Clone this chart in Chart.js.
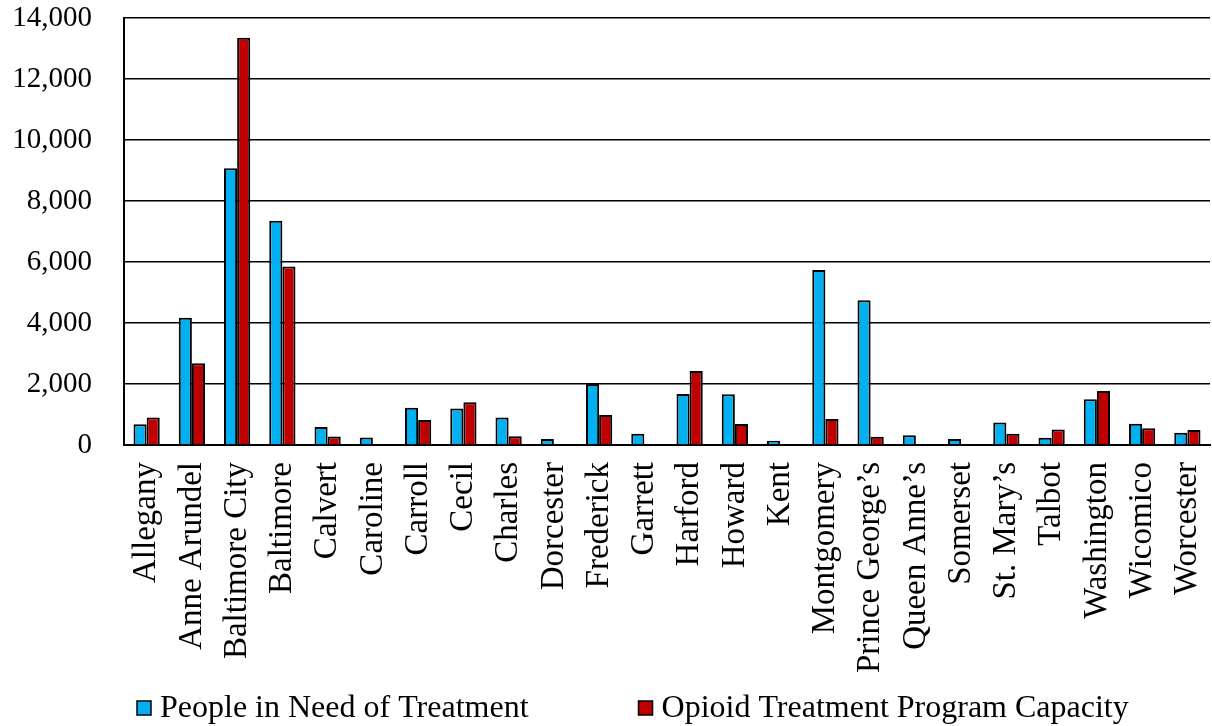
<!DOCTYPE html>
<html>
<head>
<meta charset="utf-8">
<script src="https://cdn.jsdelivr.net/npm/chart.js@4/dist/chart.umd.min.js"></script>
<style>
  html, body { margin: 0; padding: 0; background: #ffffff; }
  #wrap { width: 1212px; height: 726px; }
</style>
</head>
<body>
<div id="wrap"><canvas id="chart" width="1212" height="726"></canvas></div>
<script>
const counties = [
  "Allegany", "Anne Arundel", "Baltimore City", "Baltimore", "Calvert", "Caroline",
  "Carroll", "Cecil", "Charles", "Dorcester", "Frederick", "Garrett", "Harford",
  "Howard", "Kent", "Montgomery", "Prince George’s", "Queen Anne’s", "Somerset",
  "St. Mary’s", "Talbot", "Washington", "Wicomico", "Worcester"
];

const peopleInNeed = [
  680, 4170, 9070, 7350, 590, 250,
  1220, 1200, 900, 200, 2000, 370, 1670,
  1660, 140, 5740, 4750, 320, 200,
  740, 240, 1500, 700, 400
];

const otpCapacity = [
  900, 2680, 13350, 5850, 280, 0,
  820, 1400, 290, 0, 980, 0, 2430,
  690, 0, 850, 270, 0, 10,
  370, 510, 1770, 550, 490
];

const yTicks = [0, 2000, 4000, 6000, 8000, 10000, 12000, 14000];

const FONT = "'Liberation Serif', 'Times New Roman', serif";
const numberFormat = new Intl.NumberFormat("en-US");

// legend drawn by hand so the two entries can sit far apart on one row
const bottomLegend = {
  id: "bottomLegend",
  afterDraw(chart) {
    const c = chart.ctx;
    c.save();
    c.font = `32px ${FONT}`;
    c.textBaseline = "middle";
    c.textAlign = "left";
    const y = 708;
    const box = 14;
    const gap = 9;
    const between = 110;
    const items = chart.data.datasets.map((ds) => ({
      label: ds.label,
      color: ds.backgroundColor,
      width: box + gap + c.measureText(ds.label).width,
    }));
    let x = chart.chartArea.left + 13;
    items.forEach((item) => {
      c.fillStyle = item.color;
      c.fillRect(x, y - box / 2, box, box);
      c.strokeStyle = "#000000";
      c.lineWidth = 1.5;
      c.strokeRect(x, y - box / 2, box, box);
      c.fillStyle = "#000000";
      c.fillText(item.label, x + box + gap, y + 1);
      x += item.width + between;
    });
    c.restore();
  },
};

const ctx = document.querySelector("#chart").getContext("2d");

new Chart(ctx, {
  type: "bar",
  data: {
    labels: counties,
    datasets: [
      {
        label: "People in Need of Treatment",
        data: peopleInNeed,
        backgroundColor: "#00B0F0",
        borderColor: "#000000",
        borderWidth: 2,
        borderSkipped: "bottom",
        categoryPercentage: 0.58,
        barPercentage: 1.0,
      },
      {
        label: "Opioid Treatment Program Capacity",
        data: otpCapacity,
        backgroundColor: "#C00000",
        borderColor: "#000000",
        borderWidth: 2,
        borderSkipped: "bottom",
        categoryPercentage: 0.58,
        barPercentage: 1.0,
      },
    ],
  },
  options: {
    responsive: false,
    animation: false,
    layout: {
      padding: { left: 0, right: 2, top: 0, bottom: 0 },
    },
    scales: {
      x: {
        offset: true,
        grid: { display: false, drawTicks: false },
        border: { color: "#000000", width: 2 },
        ticks: {
          color: "#000000",
          font: { family: FONT, size: 33 },
          minRotation: 90,
          maxRotation: 90,
          autoSkip: false,
          padding: 17,
        },
        afterFit: (axis) => {
          axis.height = 281;
          axis.paddingLeft = 0;
          axis.paddingRight = 0;
        },
      },
      y: {
        min: 0,
        max: 14000,
        afterBuildTicks: (axis) => {
          axis.ticks = yTicks.map((value) => ({ value }));
        },
        grid: { color: "#000000", lineWidth: 1.5, drawTicks: false },
        border: { color: "#000000", width: 2 },
        ticks: {
          color: "#000000",
          font: { family: FONT, size: 29 },
          padding: 32,
          callback: (value) => numberFormat.format(value),
        },
        afterFit: (axis) => {
          axis.width = 124;
          axis.paddingTop = 18;
          axis.paddingBottom = 0;
        },
      },
    },
    plugins: {
      tooltip: { enabled: false },
      legend: { display: false },
    },
  },
  plugins: [bottomLegend],
});
</script>
</body>
</html>
